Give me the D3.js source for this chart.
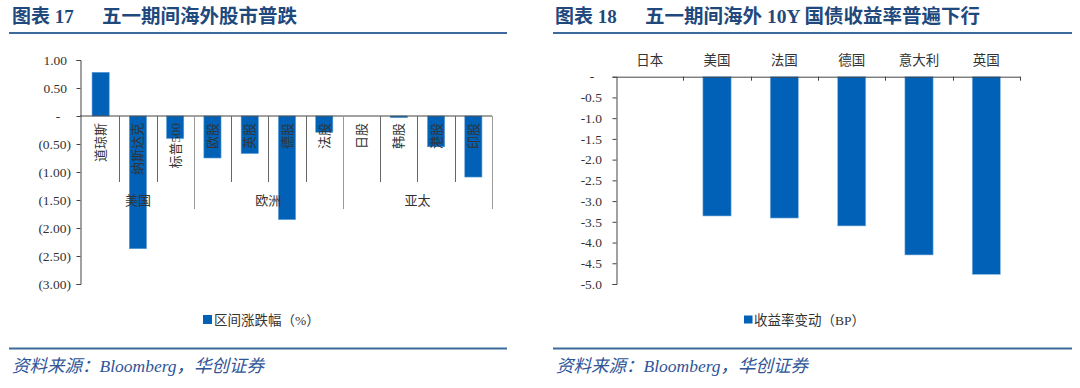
<!DOCTYPE html>
<html><head><meta charset="utf-8">
<script src="https://cdn.jsdelivr.net/npm/d3@7/dist/d3.min.js"></script>
<style>
body{margin:0;background:#fff;}
svg{display:block;}
</style></head>
<body>
<svg id="c" width="1080" height="388"></svg>
<script>
// ---- Data: Chart 17 ----
const stockCats = ["道琼斯","纳斯达克","标普500","欧股","英股","德股","法股","日股","韩股","港股","印股"];
const stockVals = [0.78, -2.37, -0.40, -0.75, -0.67, -1.85, -0.29, 0, -0.03, -0.55, -1.09];
const stockGroups = ["美国","欧洲","亚太"];
const stockGroupSizes = [3, 4, 4];
const stockTicks = [1, 0.5, 0, -0.5, -1, -1.5, -2, -2.5, -3];
const stockLegend = "区间涨跌幅（%）";
// ---- Data: Chart 18 ----
const bondCats = ["日本","美国","法国","德国","意大利","英国"];
const bondVals = [0, -3.36, -3.41, -3.6, -4.3, -4.77];
const bondTicks = [0, -0.5, -1, -1.5, -2, -2.5, -3, -3.5, -4, -4.5, -5];
const bondLegend = "收益率变动（BP）";
// ---- Texts ----
const titles = [["图表 17","五一期间海外股市普跌"],["图表 18","五一期间海外 10Y 国债收益率普遍下行"]];
const sourceText = "资料来源：Bloomberg，华创证券";

const BAR = "#0061B6", TXT = "#333", TITLE = "#1F497D", RULE = "#3C6A9C";
const CJK = "'Liberation Serif','Noto Sans CJK SC',serif";
const svg = d3.select("#c");

// titles, rules, sources
[[12, 9, 507], [555, 553, 1072]].forEach(([tx, x0, x1], i) => {
  svg.append("text").attr("x", tx).attr("y", 23).attr("fill", TITLE)
    .attr("font-family", CJK).attr("font-weight", "bold").attr("font-size", 19).text(titles[i][0]);
  svg.append("text").attr("x", tx + 90).attr("y", 23).attr("fill", TITLE)
    .attr("font-family", CJK).attr("font-weight", "bold").attr("font-size", 19.5).text(titles[i][1]);
  svg.append("line").attr("x1", x0).attr("x2", x1).attr("y1", 33).attr("y2", 33)
    .attr("stroke", RULE).attr("stroke-width", 2);
  svg.append("line").attr("x1", x0).attr("x2", x1).attr("y1", 348.5).attr("y2", 348.5)
    .attr("stroke", RULE).attr("stroke-width", 2);
  svg.append("text").attr("x", x0 + 3).attr("y", 372).attr("fill", "#2F5597")
    .attr("font-family", CJK).attr("font-style", "italic").attr("font-size", 17.5).text(sourceText);
});

// ===== Chart 17 =====
{
  const x = d3.scaleBand().domain(stockCats).range([82, 492]).padding(0);
  const y = d3.scaleLinear().domain([-3, 1]).range([284, 60]);
  const g = svg.append("g");
  const bw = x.bandwidth() * 0.46;
  g.selectAll("rect.b").data(stockVals).join("rect")
    .attr("x", (d, i) => x(stockCats[i]) + x.bandwidth() / 2 - bw / 2)
    .attr("y", d => y(Math.max(0, d)))
    .attr("width", bw)
    .attr("height", d => Math.max(Math.abs(y(d) - y(0)), d === 0 ? 0 : 1.5))
    .attr("fill", BAR).attr("stroke", "#5B9BD5").attr("stroke-width", 0.6);
  const ya = d3.axisLeft(y).tickValues(stockTicks).tickSize(4).tickFormat("");
  const yg = g.append("g").attr("transform", "translate(80.5,0)").call(ya);
  yg.select(".domain").attr("stroke", "#444");
  yg.selectAll(".tick line").attr("stroke", "#444");
  g.selectAll("text.yl").data(stockTicks).join("text")
    .attr("x", d => d > 0 ? 67 : d === 0 ? 58 : 71)
    .attr("y", d => y(d)).attr("dy", "0.35em")
    .attr("text-anchor", d => d === 0 ? "middle" : "end")
    .attr("font-family", "'Liberation Serif',serif").attr("font-size", 13.5).attr("fill", TXT)
    .text(d => d === 0 ? "-" : d > 0 ? d3.format(".2f")(d) : "(" + d3.format(".2f")(-d) + ")");
  g.append("line").attr("x1", 80).attr("x2", 492).attr("y1", y(0)).attr("y2", y(0))
    .attr("stroke", "#444").attr("stroke-width", 1);
  const bounds = [];
  let acc = 0;
  stockGroupSizes.forEach(s => { acc += s; bounds.push(acc); });
  for (let i = 1; i <= stockCats.length; i++) {
    const xx = Math.round(x(stockCats[0]) + x.step() * i) + 0.5;
    const long = bounds.includes(i);
    g.append("line").attr("x1", xx).attr("x2", xx).attr("y1", y(0)).attr("y2", long ? 209 : 182)
      .attr("stroke", long ? "#999" : "#666").attr("stroke-width", 1);
  }
  g.selectAll("text.cl").data(stockCats).join("text")
    .attr("transform", d => `translate(${x(d) + x.bandwidth() / 2},123) rotate(-90)`)
    .attr("text-anchor", "end").attr("dy", "0.35em")
    .attr("font-family", CJK).attr("font-size", 13).attr("fill", TXT).text(d => d);
  let start = 0;
  stockGroups.forEach((gname, i) => {
    const s = x(stockCats[start]);
    const e = x(stockCats[start + stockGroupSizes[i] - 1]) + x.bandwidth();
    g.append("text").attr("x", (s + e) / 2).attr("y", 200).attr("dy", "0.35em")
      .attr("text-anchor", "middle").attr("font-family", CJK).attr("font-size", 13).attr("fill", TXT).text(gname);
    start += stockGroupSizes[i];
  });
  g.append("rect").attr("x", 203).attr("y", 315).attr("width", 9).attr("height", 9).attr("fill", BAR);
  g.append("text").attr("x", 214).attr("y", 320).attr("dy", "0.35em")
    .attr("font-family", CJK).attr("font-size", 13.5).attr("fill", TXT).text(stockLegend);
}

// ===== Chart 18 =====
{
  const x = d3.scaleBand().domain(bondCats).range([616, 1020]).padding(0);
  const y = d3.scaleLinear().domain([-5, 0]).range([284, 76.7]);
  const g = svg.append("g");
  const bw = x.bandwidth() * 0.42;
  g.selectAll("rect.b").data(bondVals).join("rect")
    .attr("x", (d, i) => x(bondCats[i]) + x.bandwidth() / 2 - bw / 2)
    .attr("y", y(0))
    .attr("width", bw)
    .attr("height", d => y(d) - y(0))
    .attr("fill", BAR).attr("stroke", "#9DC3E6").attr("stroke-width", 0.6);
  const ya = d3.axisLeft(y).tickValues(bondTicks).tickSize(4).tickFormat("");
  const yg = g.append("g").attr("transform", "translate(616.5,0)").call(ya);
  yg.select(".domain").attr("stroke", "#444");
  yg.selectAll(".tick line").attr("stroke", "#444");
  g.selectAll("text.yl").data(bondTicks).join("text")
    .attr("x", d => d === 0 ? 592 : 602)
    .attr("y", d => y(d)).attr("dy", "0.35em")
    .attr("text-anchor", d => d === 0 ? "middle" : "end")
    .attr("font-family", "'Liberation Serif',serif").attr("font-size", 13.5).attr("fill", TXT)
    .text(d => d === 0 ? "-" : d3.format(".1f")(d).replace("−", "-"));
  const xa = d3.axisBottom(x).tickSize(4).tickFormat("").tickSizeOuter(0);
  const xg = g.append("g").attr("transform", `translate(0,${y(0)})`).call(xa);
  xg.select(".domain").attr("stroke", "#444");
  xg.selectAll(".tick").remove();
  bondCats.forEach((c, i) => {
    const xx = Math.round(x(c) + x.bandwidth()) + 0.5;
    g.append("line").attr("x1", xx).attr("x2", xx).attr("y1", y(0)).attr("y2", y(0) + 4).attr("stroke", "#444");
  });
  g.selectAll("text.cl").data(bondCats).join("text")
    .attr("x", d => x(d) + x.bandwidth() / 2).attr("y", 60).attr("dy", "0.35em")
    .attr("text-anchor", "middle").attr("font-family", CJK).attr("font-size", 13.5).attr("fill", TXT).text(d => d);
  g.append("rect").attr("x", 744).attr("y", 315.5).attr("width", 8.5).attr("height", 8).attr("fill", BAR);
  g.append("text").attr("x", 754).attr("y", 320).attr("dy", "0.35em")
    .attr("font-family", CJK).attr("font-size", 13.5).attr("fill", TXT).text(bondLegend);
}
</script>
</body></html>
